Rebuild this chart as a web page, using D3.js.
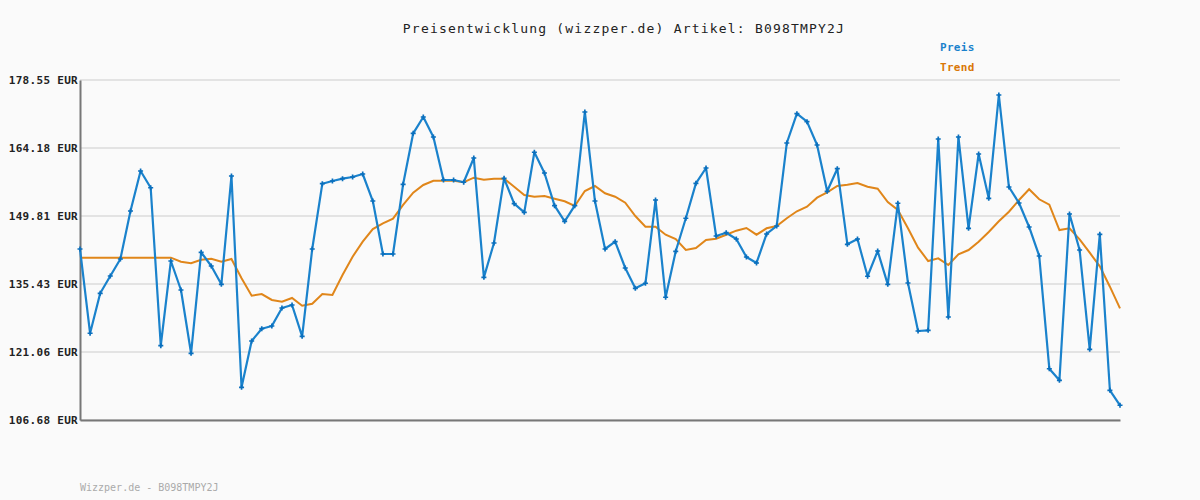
<!DOCTYPE html>
<html><head><meta charset="utf-8">
<script src="https://cdn.jsdelivr.net/npm/d3@7"></script>
<style>
html,body{margin:0;padding:0;background:#fafafa;}
svg{display:block;}
</style></head>
<body>
<svg id="chart" width="1200" height="500"></svg>
<script>
const titleText = "Preisentwicklung (wizzper.de) Artikel: B098TMPY2J";
const footerText = "Wizzper.de - B098TMPY2J";
const seriesNames = ["Preis", "Trend"];
const yTicks = [106.68, 121.06, 135.43, 149.81, 164.18, 178.55];

const preis = [142.83,125.01,133.46,137.12,140.71,150.86,159.31,155.78,122.39,140.29,
134.16,120.78,142.13,139.23,135.36,158.26,113.59,123.38,125.98,126.55,
130.36,130.99,124.37,142.83,156.63,157.20,157.69,158.05,158.68,152.97,
141.77,141.77,156.50,167.28,170.73,166.50,157.41,157.41,156.93,162.06,
136.84,144.10,157.77,152.40,150.58,163.27,158.89,151.98,148.68,151.98,
171.79,152.97,142.83,144.37,138.81,134.52,135.58,153.18,132.62,142.34,
149.32,156.71,159.95,145.57,146.27,144.94,141.14,139.87,146.00,147.69,
165.23,171.43,169.74,164.81,155.02,159.80,143.82,144.94,137.06,142.40,
135.36,152.49,135.64,125.49,125.64,166.08,128.45,166.50,147.20,162.91,
153.54,175.38,155.93,152.55,147.48,141.35,117.52,115.07,150.22,142.61,
121.62,145.93,112.96,109.79];

const trend = [140.99,140.99,140.99,140.99,140.99,140.99,140.99,140.99,140.99,140.99,
140.14,139.80,140.56,140.78,140.14,140.71,136.63,132.95,133.31,132.05,
131.69,132.47,130.84,131.26,133.31,133.10,137.33,141.20,144.37,147.05,
148.26,149.23,152.13,154.73,156.36,157.26,157.26,157.26,156.93,157.90,
157.48,157.69,157.69,156.00,154.24,153.88,154.03,153.46,152.91,151.92,
155.09,156.14,154.60,153.88,152.61,149.80,147.54,147.54,145.85,144.94,
142.61,143.04,144.73,145.00,145.85,146.70,147.27,145.85,147.20,147.69,
149.32,150.80,151.77,153.67,154.81,156.14,156.42,156.78,156.00,155.57,
152.76,151.07,147.20,143.10,140.29,140.86,139.44,141.71,142.61,144.37,
146.42,148.68,150.71,153.18,155.45,153.33,152.19,146.84,147.20,144.88,
142.04,139.17,134.86,130.29];

const colors = {preis:"#1a82cc", preisMark:"#0a6fbd", trend:"#e0861a", trendText:"#d97706"};

(function(){
const svg = d3.select("#chart");
const mLeft = 80, mRight = 1120, mTop = 80, mBottom = 420;
const x = d3.scaleLinear().domain([0, preis.length - 1]).range([mLeft, mRight]);
const y = d3.scaleLinear().domain([yTicks[0], yTicks[yTicks.length-1]]).range([mBottom, mTop]);
const mono = "'DejaVu Sans Mono', monospace";

svg.append("rect").attr("width",1200).attr("height",500).attr("fill","#fafafa");

// gridlines
svg.append("g").selectAll("line").data(yTicks).join("line")
  .attr("x1", mLeft).attr("x2", mRight)
  .attr("y1", d => y(d)).attr("y2", d => y(d))
  .attr("stroke", "#e3e3e3").attr("stroke-width", 2);

// y axis
const yAxis = d3.axisLeft(y).tickValues(yTicks).tickSize(0).tickPadding(2)
  .tickFormat(d => d.toFixed(2) + " EUR");
const gy = svg.append("g").attr("transform", `translate(${mLeft},0)`).call(yAxis);
gy.select(".domain").attr("stroke", "#777").attr("stroke-width", 2);
gy.selectAll("text").attr("font-family", mono).attr("font-size", 11)
  .attr("font-weight", "bold").attr("fill", "#222").attr("letter-spacing", 0.3);

// x axis line
const xAxis = d3.axisBottom(x).tickValues([]).tickSize(0);
const gx = svg.append("g").attr("transform", `translate(0,${mBottom})`).call(xAxis);
gx.select(".domain").attr("stroke", "#777").attr("stroke-width", 2);

// trend line
const line = d3.line().x((d,i) => x(i)).y(d => y(d));
svg.append("path").datum(trend).attr("d", line)
  .attr("fill","none").attr("stroke", colors.trend).attr("stroke-width", 2);

// price line
svg.append("path").datum(preis).attr("d", line)
  .attr("fill","none").attr("stroke", colors.preis).attr("stroke-width", 2.2)
  .attr("stroke-linejoin","round");

// markers
svg.append("g").selectAll("path").data(preis).join("path")
  .attr("transform", (d,i) => `translate(${x(i)},${y(d)})`)
  .attr("d", d3.symbol().type(d3.symbolCross).size(14))
  .attr("fill", colors.preisMark);

// title
svg.append("text").attr("x", 624).attr("y", 33).attr("text-anchor","middle")
  .attr("font-family", mono).attr("font-size", 13).attr("letter-spacing", 1.2)
  .attr("fill","#222").text(titleText);

// legend
svg.append("text").attr("x", 940).attr("y", 51).attr("font-family", mono)
  .attr("font-size", 11).attr("font-weight","bold").attr("letter-spacing", 0.3)
  .attr("fill", colors.preis).text(seriesNames[0]);
svg.append("text").attr("x", 940).attr("y", 71).attr("font-family", mono)
  .attr("font-size", 11).attr("font-weight","bold").attr("letter-spacing", 0.3)
  .attr("fill", colors.trendText).text(seriesNames[1]);

// footer
svg.append("text").attr("x", 80).attr("y", 491).attr("font-family", mono)
  .attr("font-size", 10).attr("fill","#aaa").text(footerText);
})();
</script>
</body></html>
